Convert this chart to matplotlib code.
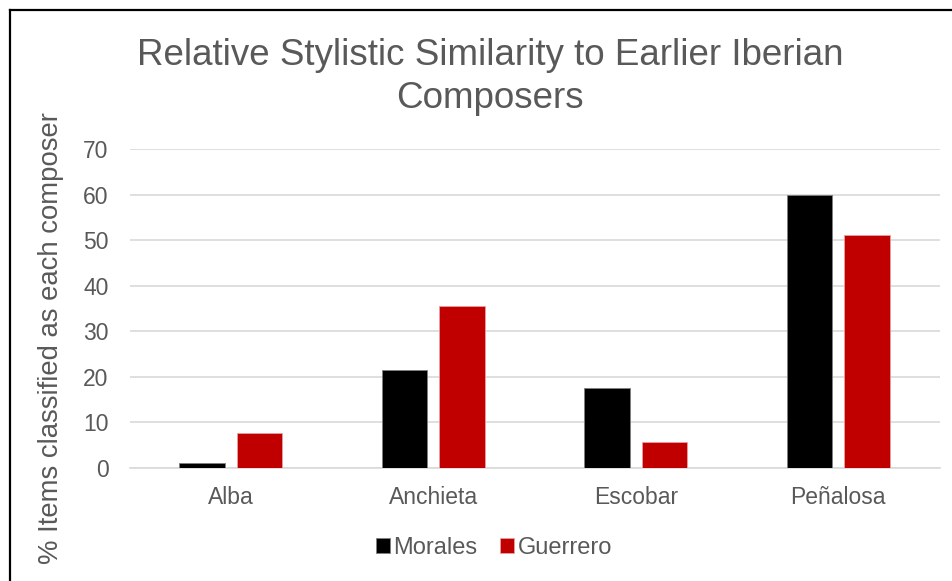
import numpy as np
import matplotlib.pyplot as plt
from matplotlib.lines import Line2D

plt.rcParams['font.family'] = ['Liberation Sans', 'DejaVu Sans']

composers = ['Alba', 'Anchieta', 'Escobar', 'Peñalosa']
morales = [1.0, 21.5, 17.4, 60.0]
guerrero = [7.6, 35.5, 5.6, 51.2]
yticks = [0, 10, 20, 30, 40, 50, 60, 70]

grey = '#595959'
grid = '#d9d9d9'

fig = plt.figure(figsize=(9.53, 5.81), dpi=100)
ax = fig.add_axes([0.1359, 0.195, 0.85, 0.5485])

x = np.arange(len(composers))
w = 0.224
off = 0.1425
ax.bar(x - off, morales, w, color='#000000', edgecolor='#7f7f7f', linewidth=0.6,
       label='Morales', zorder=3)
ax.bar(x + off, guerrero, w, color='#c00000', edgecolor='#e8a0a0', linewidth=0.6,
       label='Guerrero', zorder=3)

ax.set_xlim(-0.5, len(composers) - 0.5)
ax.set_ylim(0, 70)
ax.set_yticks(yticks)
ax.set_xticks(x)
ax.set_xticklabels(composers)
ax.tick_params(axis='both', colors=grey, labelsize=16.5, length=0)
ax.tick_params(axis='x', pad=13)
ax.tick_params(axis='y', pad=15)
ax.yaxis.grid(True, color=grid, linewidth=1.2, zorder=0)
for s in ['top', 'right', 'left']:
    ax.spines[s].set_visible(False)
ax.spines['bottom'].set_color(grid)
ax.spines['bottom'].set_linewidth(1.2)

ax.set_ylabel('% Items classified as each composer', color=grey, fontsize=19.8)
ax.yaxis.set_label_coords(-0.081, 0.407)

fig.text(0.514, 0.905, 'Relative Stylistic Similarity to Earlier Iberian',
         ha='center', va='center', color=grey, fontsize=26.5)
fig.text(0.514, 0.83, 'Composers', ha='center', va='center', color=grey, fontsize=26.5)

leg = ax.legend(loc='center', bbox_to_anchor=(0.45, -0.252),
                ncol=2, frameon=False, fontsize=17, handlelength=0.6, handleheight=0.6,
                handletextpad=0.15, columnspacing=0.95)
for t in leg.get_texts():
    t.set_color(grey)

# frame edges along the left and top of the chart
fig.add_artist(Line2D([10 / 953, 10 / 953], [0, 1 - 9.5 / 581], transform=fig.transFigure,
                      color='#000000', linewidth=1.6))
fig.add_artist(Line2D([10 / 953, 1], [1 - 9.5 / 581, 1 - 9.5 / 581], transform=fig.transFigure,
                      color='#000000', linewidth=1.6))

fig.savefig('out.png', dpi=100)
